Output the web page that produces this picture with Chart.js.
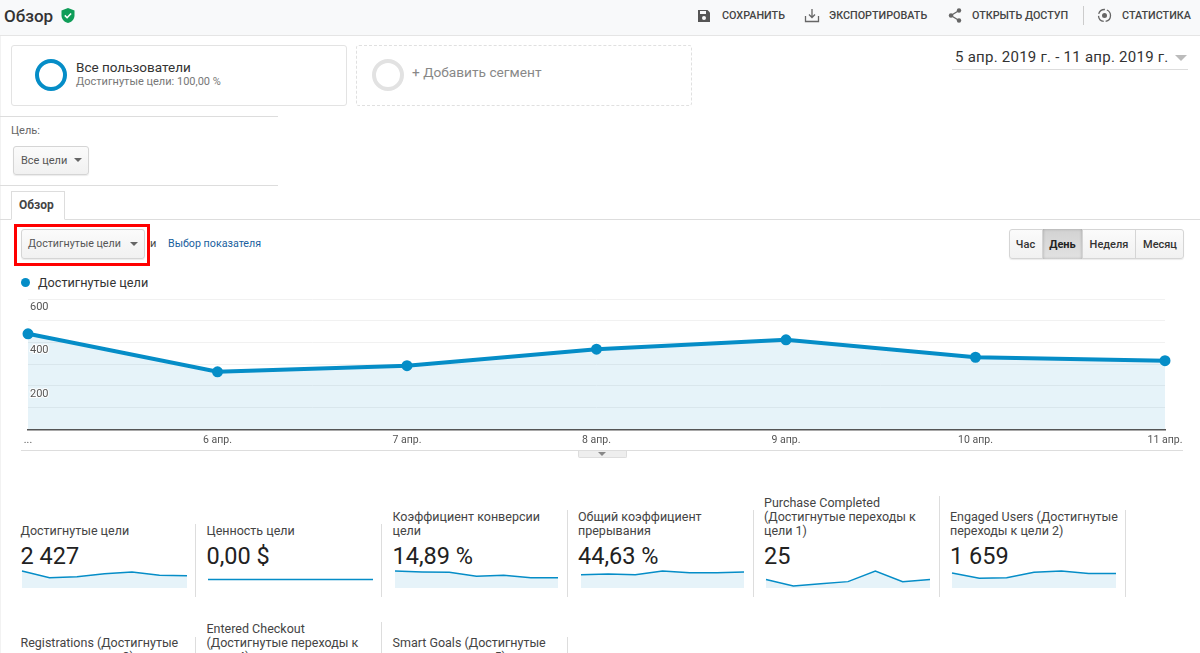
<!DOCTYPE html>
<html lang="ru">
<head>
<meta charset="utf-8">
<title>Обзор</title>
<script src="https://cdn.jsdelivr.net/npm/chart.js@4"></script>
<style>
html, body { margin:0; padding:0; width:1200px; height:653px; overflow:hidden; background:#fff; font-family:Roboto, sans-serif; color:#333; }
.a { position:absolute; white-space:nowrap; }
.t { position:absolute; white-space:nowrap; line-height:14px; transform:translateY(-50%); }
.rule { position:absolute; background:#ddd; }
.btn { position:absolute; box-sizing:border-box; border:1px solid #d5d5d5; border-radius:3px; background:linear-gradient(#fbfbfb,#f1f1f1); box-shadow:0 1px 1px rgba(0,0,0,.08); }
.tri { position:absolute; width:0; height:0; border-left:4px solid transparent; border-right:4px solid transparent; border-top:4px solid #666; }
.hdr { font-size:10.8px; font-weight:500; color:#444; top:16px; }
.seg { display:flex; align-items:center; justify-content:center; position:absolute; top:229px; height:30px; box-sizing:border-box; font-size:11px; font-weight:500; color:#333; border-right:1px solid #d5d5d5; }
.tile { position:absolute; font-size:12.5px; color:#444; line-height:14px; white-space:nowrap; }
.val { position:absolute; font-size:23.5px; color:#222; top:556px; line-height:28px; transform:translateY(-50%); white-space:nowrap; }
.spark { position:absolute; }
svg { position:absolute; }
</style>
</head>
<body>
<div class="a" style="left:0;top:0;width:1200px;height:35px;background:#f8f9fa;border-bottom:1px solid #e5e5e5"></div>
<div class="a" style="left:0;top:36px;width:1px;height:617px;background:#f2f2f2"></div>
<div class="t" style="left:4px;top:16px;font-size:17px;font-weight:500;color:#333;line-height:20px">Обзор</div>
<svg style="left:60px;top:7px" width="16" height="17" viewBox="0 0 16 17"><path d="M8 1l6.5 2.4v5c0 3.7-2.7 6.4-6.5 7.6C4.2 14.800 1.500 12.100 1.500 8.400v-5z" fill="#0f9d58"/><path d="M4.800 8.400l2.300 2.300 4-4.200" fill="none" stroke="#fff" stroke-width="1.600"/></svg>

<svg style="left:697px;top:9px" width="14" height="14" viewBox="0 0 14 14"><path d="M1 1h9.500L13 3.500V13H1z" fill="#555"/><rect x="3" y="2" width="6" height="3" fill="#f8f9fa"/><circle cx="7" cy="9" r="2" fill="#f8f9fa"/></svg>
<div class="a hdr" style="left:722px;line-height:0">СОХРАНИТЬ</div>
<svg style="left:804px;top:8px" width="16" height="15" viewBox="0 0 16 15"><path d="M1.500 8v5.500h13V8M8 1v8M5 6.500L8 9.500l3-3" fill="none" stroke="#666" stroke-width="1.300"/></svg>
<div class="a hdr" style="left:829px;line-height:0">ЭКСПОРТИРОВАТЬ</div>
<svg style="left:948px;top:8px" width="14" height="15" viewBox="0 0 14 15"><path d="M11 2.500L3 7.500l8 5" fill="none" stroke="#666" stroke-width="1.300"/><circle cx="11" cy="2.500" r="2.200" fill="#666"/><circle cx="3" cy="7.500" r="2.200" fill="#666"/><circle cx="11" cy="12.500" r="2.200" fill="#666"/></svg>
<div class="a hdr" style="left:972px;line-height:0">ОТКРЫТЬ ДОСТУП</div>
<div class="rule" style="left:1083px;top:6px;width:1px;height:19px;background:#ccc"></div>
<svg style="left:1097px;top:8px" width="15" height="15" viewBox="0 0 15 15"><circle cx="7.500" cy="7.500" r="6" fill="none" stroke="#666" stroke-width="1.300" stroke-dasharray="8 2"/><circle cx="7.500" cy="7.500" r="2.500" fill="#666"/></svg>
<div class="a hdr" style="left:1122px;line-height:0">СТАТИСТИКА</div>

<div class="a" style="left:11px;top:45px;width:334px;height:59px;border:1px solid #e3e3e3;border-radius:3px"></div>
<div class="a" style="left:35px;top:59px;width:24px;height:24px;border:4px solid #058dc7;border-radius:50%"></div>
<div class="t" style="left:76px;top:67px;font-size:13.5px;color:#333">Все пользователи</div>
<div class="t" style="left:76px;top:82px;font-size:11px;color:#777">Достигнутые цели: 100,00 %</div>
<div class="a" style="left:356px;top:45px;width:334px;height:59px;border:1px dashed #e0e0e0;border-radius:3px"></div>
<div class="a" style="left:372px;top:59px;width:24px;height:24px;border:4px solid #e2e2e2;border-radius:50%"></div>
<div class="t" style="left:412px;top:72px;font-size:13.7px;color:#888">+ Добавить сегмент</div>

<div class="t" style="left:955px;top:57px;font-size:15px;color:#333;letter-spacing:.25px">5 апр. 2019 г. - 11 апр. 2019 г.</div>
<div class="tri" style="left:1175px;top:55px;border-left-width:6px;border-right-width:6px;border-top-width:6px;border-top-color:#bbb"></div>
<div class="rule" style="left:952px;top:69px;width:236px;height:1px;background:#ddd"></div>

<div class="rule" style="left:0;top:116px;width:278px;height:1px"></div>
<div class="t" style="left:11px;top:131px;font-size:11px;color:#666">Цель:</div>
<div class="btn" style="left:13px;top:146px;width:76px;height:29px"></div>
<div class="t" style="left:21px;top:161px;font-size:11px;color:#555">Все цели</div>
<div class="tri" style="left:74px;top:158px"></div>
<div class="rule" style="left:0;top:185px;width:278px;height:1px"></div>

<div class="a" style="left:11px;top:191px;width:54px;height:29px;box-sizing:border-box;border:1px solid #ddd;border-bottom:1px solid #fff;z-index:1;background:#fff"></div>
<div class="t" style="left:19px;top:205px;font-size:12px;font-weight:700;color:#444;z-index:2">Обзор</div>
<div class="rule" style="left:0;top:219px;width:1200px;height:1px"></div>

<div class="a" style="left:14px;top:224px;width:136px;height:42px;box-sizing:border-box;border:3px solid #f00"></div>
<div class="btn" style="left:21px;top:229px;width:124px;height:30px"></div>
<div class="t" style="left:28px;top:244px;font-size:10.7px;color:#555">Достигнутые цели</div>
<div class="tri" style="left:130px;top:242px"></div>
<div class="t" style="left:150px;top:244px;font-size:11px;color:#444">и</div>
<div class="t" style="left:168px;top:244px;font-size:10.7px;color:#1a5f9e">Выбор показателя</div>

<div class="btn" style="left:1009px;top:229px;width:175px;height:30px"></div>
<div class="seg" style="left:1009px;width:34px">Час</div>
<div class="seg" style="left:1043px;width:40px;font-weight:700;color:#222;background:linear-gradient(#d2d2d2,#e2e2e2);box-shadow:inset 0 0 3px rgba(0,0,0,.25)">День</div>
<div class="seg" style="left:1083px;width:53px">Неделя</div>
<div class="seg" style="left:1136px;width:48px;border-right:0">Месяц</div>

<div class="a" style="left:21px;top:278px;width:9px;height:9px;border-radius:50%;background:#058dc7"></div>
<div class="t" style="left:38px;top:283px;font-size:12.700px;color:#333">Достигнутые цели</div>

<canvas id="mainChart" class="a" style="left:0;top:290px" width="1200" height="164"></canvas>
<div class="rule" style="left:21px;top:450px;width:1162px;height:1px;background:#ddd"></div>
<div class="a" style="left:578px;top:451px;width:49px;height:7px;box-sizing:border-box;background:#eee;border:1px solid #ddd;border-top:0;border-radius:0 0 2px 2px"></div>
<div class="tri" style="left:598px;top:452px;border-left-width:4px;border-right-width:4px;border-top-width:4px;border-top-color:#888"></div>

<!-- плитки, первый ряд -->
<div class="tile" style="left:20.500px;top:524px">Достигнутые цели</div>
<div class="tile" style="left:206.500px;top:524px">Ценность цели</div>
<div class="tile" style="left:392.500px;top:510px">Коэффициент конверсии<br>цели</div>
<div class="tile" style="left:578px;top:510px">Общий коэффициент<br>прерывания</div>
<div class="tile" style="left:764px;top:496px">Purchase Completed<br>(Достигнутые переходы к<br>цели 1)</div>
<div class="tile" style="left:950px;top:510px">Engaged Users (Достигнутые<br>переходы к цели 2)</div>
<div class="val" style="left:20.500px">2 427</div>
<div class="val" style="left:206.500px">0,00 $</div>
<div class="val" style="left:392.500px">14,89 %</div>
<div class="val" style="left:578px">44,63 %</div>
<div class="val" style="left:764px">25</div>
<div class="val" style="left:950px">1 659</div>
<div class="rule" style="left:195px;top:524px;width:1px;height:73px"></div>
<div class="rule" style="left:381px;top:524px;width:1px;height:73px"></div>
<div class="rule" style="left:567px;top:510px;width:1px;height:87px"></div>
<div class="rule" style="left:753px;top:510px;width:1px;height:87px"></div>
<div class="rule" style="left:939px;top:496px;width:1px;height:101px"></div>
<div class="rule" style="left:1125px;top:510px;width:1px;height:87px"></div>

<canvas id="spark0" class="spark" style="left:19px;top:568px" width="171" height="23"></canvas>
<canvas id="spark1" class="spark" style="left:205px;top:568px" width="171" height="23"></canvas>
<canvas id="spark2" class="spark" style="left:392px;top:568px" width="169" height="23"></canvas>
<canvas id="spark3" class="spark" style="left:578px;top:568px" width="169" height="23"></canvas>
<canvas id="spark4" class="spark" style="left:763px;top:568px" width="170" height="23"></canvas>
<canvas id="spark5" class="spark" style="left:949px;top:568px" width="170" height="23"></canvas>

<!-- плитки, второй ряд -->
<div class="tile" style="left:20.500px;top:636px">Registrations (Достигнутые<br>переходы к цели 3)</div>
<div class="tile" style="left:206.500px;top:622px">Entered Checkout<br>(Достигнутые переходы к<br>цели 4)</div>
<div class="tile" style="left:392.500px;top:636px">Smart Goals (Достигнутые<br>переходы к цели 5)</div>
<div class="rule" style="left:195px;top:637px;width:1px;height:16px"></div>
<div class="rule" style="left:381px;top:622px;width:1px;height:31px"></div>
<div class="rule" style="left:567px;top:637px;width:1px;height:16px"></div>

<script>
const xLabels = ["...", "6 апр.", "7 апр.", "8 апр.", "9 апр.", "10 апр.", "11 апр."];
const yLabelled = [200, 400, 600];
const goalsReached = [440, 265, 293, 369, 412, 332, 316];

const goalValue = [0, 0, 0, 0, 0, 0, 0];
const conversionRate = [18, 17, 16.6, 12.4, 13.4, 10.9, 10.9];
const abandonRate = [39, 41, 39, 50, 45, 45, 47];
const purchaseCompleted = [4, 1, 2, 3, 8, 3, 4];
const engagedUsers = [259, 166, 178, 270, 292, 247, 247];

const BLUE = "#058dc7";
const AREA = "rgba(5,141,199,0.1)";

new Chart(document.getElementById("mainChart"), {
    type: "line",
    data: {
        labels: xLabels,
        datasets: [{
            label: "Достигнутые цели",
            data: goalsReached,
            borderColor: BLUE,
            backgroundColor: AREA,
            borderWidth: 4,
            pointBackgroundColor: BLUE,
            pointBorderColor: BLUE,
            pointRadius: 3.5,
            tension: 0,
            fill: "origin",
            clip: false
        }]
    },
    options: {
        responsive: false,
        animation: false,
        layout: { padding: { left: 24, right: 35, top: 9, bottom: 2 } },
        plugins: { legend: { display: false }, tooltip: { enabled: false } },
        scales: {
            x: {
                grid: { display: false, drawTicks: false },
                border: { display: true, color: "#555", width: 1.5 },
                ticks: { autoSkip: false, maxRotation: 0, padding: 5, color: "#555", font: { family: "Roboto", size: 10.5 } }
            },
            y: {
                min: 0,
                max: 600,
                grid: { color: "#f1f1f1", drawTicks: false },
                border: { display: false },
                ticks: {
                    stepSize: 100,
                    autoSkip: false,
                    mirror: true,
                    padding: 2,
                    labelOffset: 8,
                    z: 1,
                    color: "#555",
                    textStrokeColor: "#fff",
                    textStrokeWidth: 2,
                    font: { family: "Roboto", size: 11 },
                    callback: function (v) { return yLabelled.includes(v) ? String(v) : ""; }
                }
            }
        }
    }
});

// маленькие графики под плитками
const sparkSeries = [goalsReached, goalValue, conversionRate, abandonRate, purchaseCompleted, engagedUsers];
sparkSeries.forEach(function (series, i) {
    const top = Math.max(...series);
    new Chart(document.getElementById("spark" + i), {
        type: "line",
        data: {
            labels: xLabels,
            datasets: [{
                data: series,
                borderColor: BLUE,
                backgroundColor: AREA,
                borderWidth: 1.5,
                pointRadius: 0,
                tension: 0,
                fill: "origin",
                clip: false
            }]
        },
        options: {
            responsive: false,
            animation: false,
            layout: { padding: { left: 3, right: 3, top: 3, bottom: 3 } },
            plugins: { legend: { display: false }, tooltip: { enabled: false } },
            scales: {
                x: { display: false },
                y: { display: false, min: top > 0 ? 0 : -1, max: top > 0 ? top : 1 }
            }
        }
    });
});
</script>
</body>
</html>
